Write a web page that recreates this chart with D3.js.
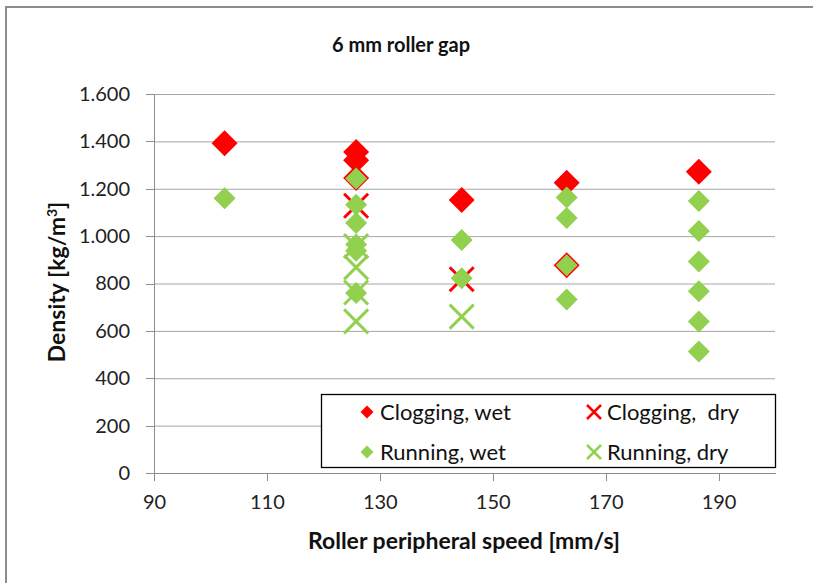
<!DOCTYPE html>
<html>
<head>
<meta charset="utf-8"/>
<title>6 mm roller gap</title>
<script src="https://d3js.org/d3.v7.min.js"></script>
<style>
html, body { margin: 0; background: #fff; overflow: hidden; }
svg { display: block; font-family: Lato, "Open Sans", sans-serif; }
.grid line { stroke: #a6a6a6; stroke-width: 1; }
.grid path { display: none; }
.axis path, .axis line { stroke: #8c8c8c; shape-rendering: crispEdges; }
.axis text { font-size: 20px; fill: #222; font-family: Lato, sans-serif; }
.title { font-weight: bold; font-size: 20px; fill: #111; }
.axis-title { font-weight: bold; font-size: 23px; fill: #111; }
.legend text { font-size: 22px; fill: #111; white-space: pre; }
</style>
</head>
<body>
<svg width="813" height="583"></svg>
<script>

// data: speed [mm/s], density [kg/m3]
var cloggingWetX = [102.5, 125.8, 125.8, 125.8, 144.5, 163.1, 163.1, 186.5];
var cloggingWetY = [1392, 1355, 1320, 1245, 1152, 1225, 877, 1272];

var cloggingDryX = [125.8, 144.5];
var cloggingDryY = [1128, 818];

var runningWetX = [102.5, 125.8, 125.8, 125.8, 125.8, 125.8, 125.8, 144.5, 144.5, 163.1, 163.1, 163.1, 163.1, 186.5, 186.5, 186.5, 186.5, 186.5, 186.5];
var runningWetY = [1160, 1243, 1132, 1055, 965, 938, 760, 984, 822, 1163, 1077, 877, 732, 1148, 1022, 893, 767, 640, 513];

var runningDryX = [125.8, 125.8, 125.8, 125.8, 144.5];
var runningDryY = [958, 868, 762, 640, 660];

var xTicks = [90, 110, 130, 150, 170, 190];
var yTicks = [0, 200, 400, 600, 800, 1000, 1200, 1400, 1600];

var legendNames = ["Clogging, wet", "Clogging,  dry", "Running, wet", "Running, dry"];

var red = "#ff0000", green = "#92d050";

var svg = d3.select("svg"),
    margin = {top: 94, left: 154},
    width = 621,
    height = 379,
    g = svg.append("g").attr("transform", "translate(" + margin.left + "," + margin.top + ")");

// chart area frame: only the left and top edges fall inside the picture
svg.append("path")
    .attr("d", "M6,600V7H830")
    .attr("fill", "none")
    .attr("stroke", "#8c8c8c")
    .attr("stroke-width", 2);

svg.append("text")
    .attr("class", "title")
    .attr("x", 401).attr("y", 52)
    .attr("text-anchor", "middle")
    .text("6 mm roller gap");

var x = d3.scaleLinear().domain([90, 200]).range([0, width]);
var y = d3.scaleLinear().domain([0, 1600]).range([height, 0]);

var fmt = function(d) { return d3.format(",")(d).replace(",", "."); };

// horizontal gridlines
g.append("g")
    .attr("class", "grid")
    .call(d3.axisLeft(y).tickValues(yTicks.slice(1)).tickSize(-width).tickFormat(""));

g.append("g")
    .attr("class", "axis axis--y")
    .call(d3.axisLeft(y).tickValues(yTicks).tickSize(8).tickSizeOuter(0).tickPadding(16).tickFormat(fmt));

g.append("g")
    .attr("class", "axis axis--x")
    .attr("transform", "translate(0," + height + ")")
    .call(d3.axisBottom(x).tickValues(xTicks).tickSize(8).tickSizeOuter(0).tickPadding(14));

svg.append("text")
    .attr("class", "axis-title")
    .attr("x", 464).attr("y", 549)
    .attr("text-anchor", "middle")
    .text("Roller peripheral speed [mm/s]");

svg.append("text")
    .attr("class", "axis-title")
    .attr("transform", "translate(65,282) rotate(-90)")
    .attr("text-anchor", "middle")
    .html("Density [kg/m<tspan dy='-8' font-size='14'>3</tspan><tspan dy='8'>]</tspan>");

function diamond(r) {
  return "M0," + (-r) + "L" + r + ",0L0," + r + "L" + (-r) + ",0Z";
}
function cross(r) {
  return "M" + (-r) + "," + (-r) + "L" + r + "," + r + "M" + r + "," + (-r) + "L" + (-r) + "," + r;
}

function zip(xs, ys) { return xs.map(function(v, i) { return [v, ys[i]]; }); }

// series drawn in the same order as the original so overlaps look alike
var series = [
  {pts: zip(cloggingWetX, cloggingWetY), shape: "d", size: 13, color: red},
  {pts: zip(cloggingDryX, cloggingDryY), shape: "x", size: 12, color: red},
  {pts: zip(runningWetX, runningWetY), shape: "d", size: 11, color: green},
  {pts: zip(runningDryX, runningDryY), shape: "x", size: 12, color: green}
];

series.forEach(function(s) {
  g.append("g").selectAll("path")
    .data(s.pts)
    .enter().append("path")
      .attr("transform", function(d) { return "translate(" + x(d[0]) + "," + y(d[1]) + ")"; })
      .attr("d", s.shape === "d" ? diamond(s.size) : cross(s.size))
      .attr("fill", s.shape === "d" ? s.color : "none")
      .attr("stroke", s.shape === "d" ? "none" : s.color)
      .attr("stroke-width", 3);
});

// legend
var legend = svg.append("g").attr("class", "legend");
legend.append("rect")
    .attr("x", 321.5).attr("y", 394.5)
    .attr("width", 454).attr("height", 73)
    .attr("fill", "#fff")
    .attr("stroke", "#000")
    .attr("stroke-width", 1.3);

var legPos = [[367, 412], [594, 412], [367, 452], [594, 452]];
series.forEach(function(s, i) {
  var p = legPos[i];
  legend.append("path")
    .attr("transform", "translate(" + p[0] + "," + p[1] + ")")
    .attr("d", s.shape === "d" ? diamond(6.5) : cross(7))
    .attr("fill", s.shape === "d" ? s.color : "none")
    .attr("stroke", s.shape === "d" ? "none" : s.color)
    .attr("stroke-width", 2.5);
  legend.append("text")
    .attr("x", p[0] + 13).attr("y", p[1] + 8)
    .text(legendNames[i]);
});

</script>
</body>
</html>
